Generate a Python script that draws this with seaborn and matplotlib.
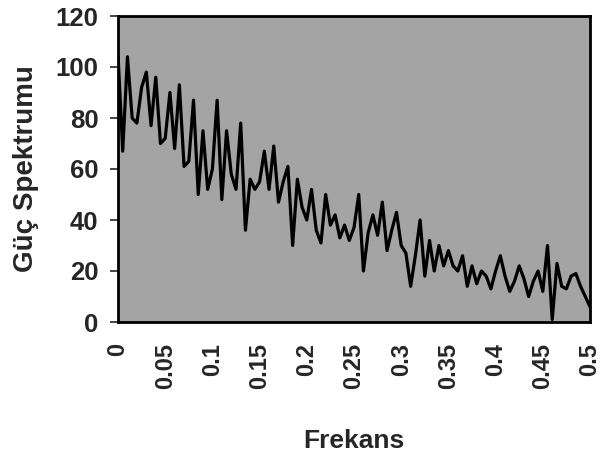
import numpy as np
import pandas as pd
import matplotlib
matplotlib.use("Agg")
import matplotlib.pyplot as plt
import seaborn as sns

# Data
power = [105, 67, 104, 80, 78, 92, 98, 77, 96, 70,
         72, 90, 68, 93, 61, 63, 87, 50, 75, 52,
         60, 87, 48, 75, 58, 52, 78, 36, 56, 52,
         55, 67, 52, 69, 47, 55, 61, 30, 56, 45,
         40, 52, 36, 31, 50, 38, 42, 33, 38, 32,
         37, 50, 20, 35, 42, 34, 47, 28, 36, 43,
         30, 27, 14, 26, 40, 18, 32, 20, 30, 22,
         28, 22, 20, 26, 14, 22, 15, 20, 18, 13,
         20, 26, 18, 12, 16, 22, 17, 10, 16, 20,
         12, 30, 1, 23, 14, 13, 18, 19, 14, 10,
         6]
freq = np.linspace(0, 0.5, len(power))
x_ticks = [0, 0.05, 0.1, 0.15, 0.2, 0.25, 0.3, 0.35, 0.4, 0.45, 0.5]
x_tick_labels = ["0", "0.05", "0.1", "0.15", "0.2", "0.25", "0.3", "0.35", "0.4", "0.45", "0.5"]
y_ticks = [0, 20, 40, 60, 80, 100, 120]
x_label = "Frekans"
y_label = "Güç Spektrumu"

sns.set_theme(style="ticks")
plt.rcParams["font.family"] = ["Liberation Sans", "DejaVu Sans"]
plt.rcParams["font.weight"] = "bold"

df = pd.DataFrame({"freq": freq, "power": power})

fig = plt.figure(figsize=(6.0, 4.58), dpi=100)
ax = fig.add_axes([118 / 600, 1 - 322 / 458, (590 - 118) / 600, (322 - 16) / 458])
ax.set_facecolor("#a4a4a4")

sns.lineplot(data=df, x="freq", y="power", color="black", linewidth=2.3, ax=ax)

ax.set_xlim(0, 0.5)
ax.set_ylim(0, 120)
ax.set_xticks(x_ticks)
ax.set_xticklabels(x_tick_labels, rotation=90, fontsize=17, fontweight="bold")
ax.set_yticks(y_ticks)
ax.set_yticklabels([str(v) for v in y_ticks], fontsize=18.5, fontweight="bold")
ax.tick_params(axis="x", length=0, pad=15)
ax.tick_params(axis="y", length=6, width=1.2, pad=8, direction="out")

ax.set_xlabel(x_label, fontsize=19, fontweight="bold", labelpad=29)
ax.set_ylabel(y_label, fontsize=20, fontweight="bold", labelpad=12)

for s in ax.spines.values():
    s.set_visible(True)
    s.set_color("black")
    s.set_linewidth(2.0)

fig.savefig("out.png", dpi=100)
